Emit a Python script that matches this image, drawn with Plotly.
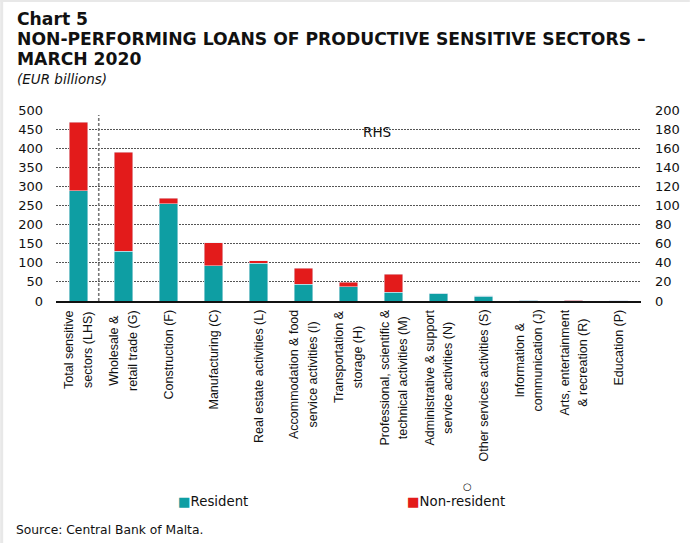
import plotly.graph_objects as go

# Sector categories (NACE codes in brackets); each entry is a list of label lines
category_lines = [
    ["Total sensitive", "sectors (LHS)"],
    ["Wholesale &", "retail trade (G)"],
    ["Construction (F)"],
    ["Manufacturing (C)"],
    ["Real estate activities (L)"],
    ["Accommodation & food", "service activities (I)"],
    ["Transportation &", "storage (H)"],
    ["Professional, scientific &", "technical activities (M)"],
    ["Administrative & support", "service activities (N)"],
    ["Other services activities (S)"],
    ["Information &", "communication (J)"],
    ["Arts, entertainment", "& recreation (R)"],
    ["Education (P)"],
]
categories = [" ".join(lines) for lines in category_lines]

# Total of sensitive sectors (left-hand scale)
total_resident = [288]
total_non_resident = [180]

# Individual sectors (right-hand scale)
sector_resident = [52, 102, 37, 39.5, 17.5, 14.7, 9, 8, 5.2, 0.8, 0.5, 0.4]
sector_non_resident = [104, 5.5, 24, 2.5, 17, 5, 19, 0.2, 0.1, 0.1, 0.1, 0.1]

left_ticks = list(range(0, 501, 50))
right_ticks = list(range(0, 201, 20))

series_names = ["Resident", "Non-resident"]
TEAL = "#0E9EA3"
RED = "#E31B1B"
SANS = "DejaVu Sans, Verdana, sans-serif"
ARIAL = "Liberation Sans, Arial, sans-serif"
INK = "#111111"

# plot-area geometry in pixels, used to place the text blocks around it
W, H = 692, 543
L, R, T, B = 56, 49, 110, 242
PW, PH = W - L - R, H - T - B


def px(x):
    return (x - L) / PW


def py(y):
    return (H - B - y) / PH


fig = go.Figure()

fig.add_trace(go.Bar(x=categories[:1], y=total_resident, name=series_names[0],
                     marker_color=TEAL, yaxis="y", showlegend=False))
fig.add_trace(go.Bar(x=categories[:1], y=total_non_resident, name=series_names[1],
                     marker_color=RED, yaxis="y", showlegend=False))
fig.add_trace(go.Bar(x=categories[1:], y=sector_resident, name=series_names[0],
                     marker_color=TEAL, yaxis="y2", showlegend=False))
fig.add_trace(go.Bar(x=categories[1:], y=sector_non_resident, name=series_names[1],
                     marker_color=RED, yaxis="y2", showlegend=False))

fig.update_layout(
    width=W, height=H,
    margin=dict(l=L, r=R, t=T, b=B),
    paper_bgcolor="white", plot_bgcolor="white",
    barmode="stack", bargap=0.59,
    font=dict(family=SANS, size=13, color=INK),
    showlegend=False,
    xaxis=dict(categoryorder="array", categoryarray=categories,
               showticklabels=False, ticks="", showgrid=False,
               showline=True, linecolor=INK, linewidth=2),
    yaxis=dict(range=[0, 500], tickvals=left_ticks, ticks="",
               showline=False, zeroline=False, ticklabelstandoff=12,
               tickfont=dict(size=13),
               showgrid=True, gridcolor="#555555", gridwidth=1,
               griddash="2px,1px"),
    yaxis2=dict(range=[0, 200], tickvals=right_ticks, overlaying="y",
                side="right", ticks="", showline=False, zeroline=False,
                showgrid=False, ticklabelstandoff=13, tickfont=dict(size=13)),
)

# Rotated category labels, centred line by line under each bar
for cat, lines in zip(categories, category_lines):
    body = "<br>".join(f"<span style='font-size:12.5px'>{ln}</span>" for ln in lines)
    fig.add_annotation(text=body, xref="x", yref="paper", x=cat, y=py(308),
                       xanchor="center", yanchor="top", textangle=-90,
                       align="center", showarrow=False,
                       font=dict(family=ARIAL, size=14.6, color=INK))

# Separator between the LHS total and the RHS sectors
fig.add_shape(type="line", xref="x", yref="paper", x0=0.45, x1=0.45,
              y0=0, y1=py(115), line=dict(color="#777777", width=1.6, dash="3px,2px"))

fig.add_annotation(text="RHS", xref="paper", yref="paper", x=px(378), y=py(121.5),
                   showarrow=False, font=dict(size=13.5))

# Heading block
fig.add_annotation(text="<b>Chart 5</b>", xref="paper", yref="paper",
                   x=px(15), y=py(19), xanchor="left", yanchor="middle",
                   showarrow=False, font=dict(size=17.2))
fig.add_annotation(text="<b>NON-PERFORMING LOANS OF PRODUCTIVE SENSITIVE SECTORS –</b>",
                   xref="paper", yref="paper", x=px(15), y=py(39),
                   xanchor="left", yanchor="middle", showarrow=False,
                   font=dict(size=17.2))
fig.add_annotation(text="<b>MARCH 2020</b>", xref="paper", yref="paper",
                   x=px(15), y=py(59), xanchor="left", yanchor="middle",
                   showarrow=False, font=dict(size=17.2))
fig.add_annotation(text="<i>(EUR billions)</i>", xref="paper", yref="paper",
                   x=px(15), y=py(79), xanchor="left", yanchor="middle",
                   showarrow=False, font=dict(size=13.5, style="italic"))

# Legend keys
for name, colour, x0 in zip(series_names, [TEAL, RED], [176, 406]):
    fig.add_annotation(text=f"<span style='color:{colour}'>■</span>{name}",
                       xref="paper", yref="paper", x=px(x0), y=py(501.5),
                       xanchor="left", yanchor="middle", showarrow=False,
                       font=dict(size=13.3))
fig.add_annotation(text="○", xref="paper", yref="paper", x=px(469), y=py(486),
                   xanchor="center", yanchor="middle", showarrow=False,
                   font=dict(size=10))

fig.add_annotation(text="Source: Central Bank of Malta.", xref="paper", yref="paper",
                   x=px(14), y=py(530), xanchor="left", yanchor="middle",
                   showarrow=False, font=dict(size=12.3))

# Thin grey frame edges along the left and top of the page
fig.add_shape(type="rect", xref="paper", yref="paper", x0=px(0), x1=px(3),
              y0=py(H), y1=py(0), line_width=0, fillcolor="#e8e8e8", layer="below")
fig.add_shape(type="rect", xref="paper", yref="paper", x0=px(0), x1=px(W),
              y0=py(2), y1=py(0), line_width=0, fillcolor="#e8e8e8", layer="below")

fig.write_html("out.html")
